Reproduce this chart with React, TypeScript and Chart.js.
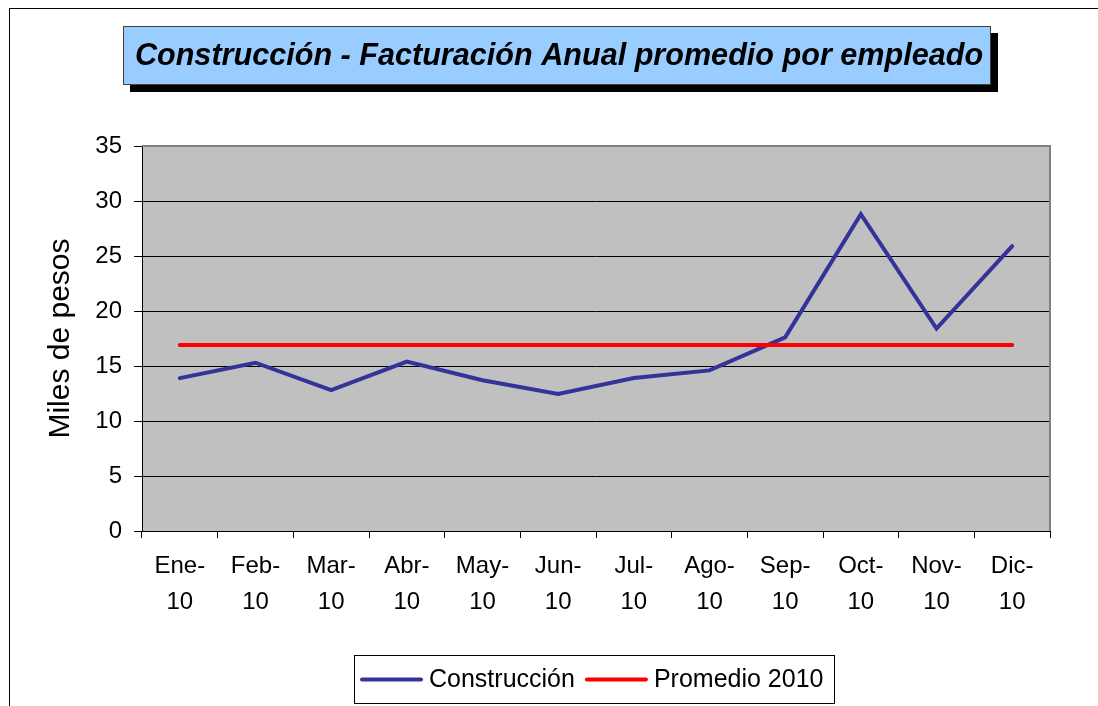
import React, { useEffect, useRef } from "react";
import { Chart, registerables } from "chart.js";

Chart.register(...registerables);

const TITLE = "Construcción - Facturación Anual promedio por empleado";
const Y_TITLE = "Miles de pesos";
const MONTHS = ["Ene-", "Feb-", "Mar-", "Abr-", "May-", "Jun-", "Jul-", "Ago-", "Sep-", "Oct-", "Nov-", "Dic-"];
const YEARS = ["10", "10", "10", "10", "10", "10", "10", "10", "10", "10", "10", "10"];
const SERIES_NAMES = ["Construcción", "Promedio 2010"];
const CONSTRUCCION = [13.9, 15.3, 12.8, 15.4, 13.7, 12.45, 13.9, 14.6, 17.6, 28.8, 18.4, 25.9];
const PROMEDIO = [16.9, 16.9, 16.9, 16.9, 16.9, 16.9, 16.9, 16.9, 16.9, 16.9, 16.9, 16.9];
const Y_MIN = 0;
const Y_MAX = 35;
const Y_STEP = 5;

const FONT = "'Liberation Sans', Arial, Helvetica, sans-serif";
const BLUE = "#333399";
const RED = "#FF0000";

const decorPlugin = {
  id: "decor",
  beforeDraw(chart: any) {
    const { ctx, chartArea: a, width, height } = chart;
    ctx.save();
    ctx.fillStyle = "#ffffff";
    ctx.fillRect(0, 0, width, height);
    // outer frame (clipped at right/bottom)
    ctx.fillStyle = "#000000";
    ctx.fillRect(9, 8, width - 9, 1);
    ctx.fillRect(9, 8, 1, height - 8);
    // plot area
    ctx.fillStyle = "#C0C0C0";
    ctx.fillRect(a.left, a.top, a.right - a.left, a.bottom - a.top);
    // title box with shadow
    const bx = 123, by = 26, bw = 868, bh = 59, sh = 7;
    ctx.fillStyle = "#000000";
    ctx.fillRect(bx + sh, by + sh, bw, bh);
    ctx.fillStyle = "#99CCFF";
    ctx.fillRect(bx, by, bw, bh);
    ctx.strokeStyle = "#404040";
    ctx.lineWidth = 1;
    ctx.strokeRect(bx + 0.5, by + 0.5, bw - 1, bh - 1);
    ctx.fillStyle = "#000000";
    ctx.font = `italic bold 30.6px ${FONT}`;
    ctx.textAlign = "center";
    ctx.textBaseline = "middle";
    ctx.fillText(TITLE, bx + bw / 2 + 2, by + bh / 2 + 1);
    ctx.restore();
  },
  beforeDatasetsDraw(chart: any) {
    const { ctx, chartArea: a } = chart;
    ctx.save();
    ctx.strokeStyle = "#808080";
    ctx.lineWidth = 2;
    ctx.beginPath();
    ctx.moveTo(a.left, a.top);
    ctx.lineTo(a.right, a.top);
    ctx.lineTo(a.right, a.bottom);
    ctx.stroke();
    ctx.restore();
  },
  afterDraw(chart: any) {
    const { ctx, chartArea: a } = chart;
    const ds = chart.data.datasets;
    ctx.save();
    ctx.font = `25px ${FONT}`;
    const lineLen = 59, padL = 8, gapText = 8, gapItem = 12, padR = 12;
    let total = padL;
    ds.forEach((d: any, i: number) => {
      total += lineLen + gapText + ctx.measureText(d.label).width;
      if (i < ds.length - 1) total += gapItem;
    });
    total = Math.round(total + padR);
    const cx = (a.left + a.right) / 2 - 2;
    const left = Math.round(cx - total / 2);
    const top = 655, h = 49;
    const midY = top + h / 2;
    ctx.fillStyle = "#ffffff";
    ctx.fillRect(left, top, total, h);
    ctx.strokeStyle = "#000000";
    ctx.lineWidth = 1;
    ctx.strokeRect(left + 0.5, top + 0.5, total - 1, h - 1);
    let x = left + padL;
    ds.forEach((d: any) => {
      ctx.strokeStyle = d.borderColor;
      ctx.lineWidth = 4;
      ctx.lineCap = "round";
      ctx.beginPath();
      ctx.moveTo(x, midY);
      ctx.lineTo(x + lineLen, midY);
      ctx.stroke();
      x += lineLen + gapText;
      ctx.fillStyle = "#000000";
      ctx.textAlign = "left";
      ctx.textBaseline = "middle";
      ctx.fillText(d.label, x, midY + 1);
      x += ctx.measureText(d.label).width + gapItem;
    });
    ctx.restore();
  },
};

export default function App() {
  const ref = useRef<HTMLCanvasElement>(null);
  useEffect(() => {
    if (!ref.current) return;
    const labels = MONTHS.map((m, i) => [m, YEARS[i]]);
    const chart = new Chart(ref.current, {
      type: "line",
      data: {
        labels,
        datasets: [
          {
            label: SERIES_NAMES[0],
            data: CONSTRUCCION,
            borderColor: BLUE,
            backgroundColor: BLUE,
            borderWidth: 4,
            pointRadius: 0,
            tension: 0,
            borderCapStyle: "round",
            borderJoinStyle: "miter",
            order: 1,
          },
          {
            label: SERIES_NAMES[1],
            data: PROMEDIO,
            borderColor: RED,
            backgroundColor: RED,
            borderWidth: 4,
            pointRadius: 0,
            tension: 0,
            borderCapStyle: "round",
            order: 0,
          },
        ],
      },
      options: {
        responsive: false,
        animation: false,
        events: [],
        layout: { padding: { top: 146, right: 48, left: 0, bottom: 0 } },
        plugins: {
          legend: { display: false },
          title: { display: false },
          tooltip: { enabled: false },
        },
        scales: {
          x: {
            type: "category",
            offset: true,
            grid: {
              offset: true,
              drawOnChartArea: false,
              drawTicks: true,
              tickLength: 7,
              color: "#000000",
              lineWidth: 1,
            },
            border: { display: true, color: "#000000", width: 1 },
            ticks: {
              autoSkip: false,
              maxRotation: 0,
              minRotation: 0,
              padding: 10,
              color: "#000000",
              font: { family: FONT, size: 24, lineHeight: 1.52 },
            },
            afterFit: (s: any) => {
              s.height = 175;
            },
          },
          y: {
            min: Y_MIN,
            max: Y_MAX,
            ticks: {
              stepSize: Y_STEP,
              padding: 12,
              color: "#000000",
              font: { family: FONT, size: 24 },
            },
            grid: {
              color: "#000000",
              lineWidth: 1,
              drawTicks: true,
              tickLength: 8,
            },
            border: { display: true, color: "#000000", width: 1 },
            title: {
              display: true,
              text: Y_TITLE,
              color: "#000000",
              font: { family: FONT, size: 30 },
              padding: { top: 43, bottom: 0 },
            },
            afterFit: (s: any) => {
              s.width = 142;
            },
          },
        },
      },
      plugins: [decorPlugin],
    });
    return () => chart.destroy();
  }, []);
  return (
    <div style={{ position: "fixed", left: 0, top: 0, width: 1098, height: 706, overflow: "hidden", background: "#fff" }}>
      <canvas ref={ref} width={1098} height={706} style={{ display: "block" }} />
    </div>
  );
}
